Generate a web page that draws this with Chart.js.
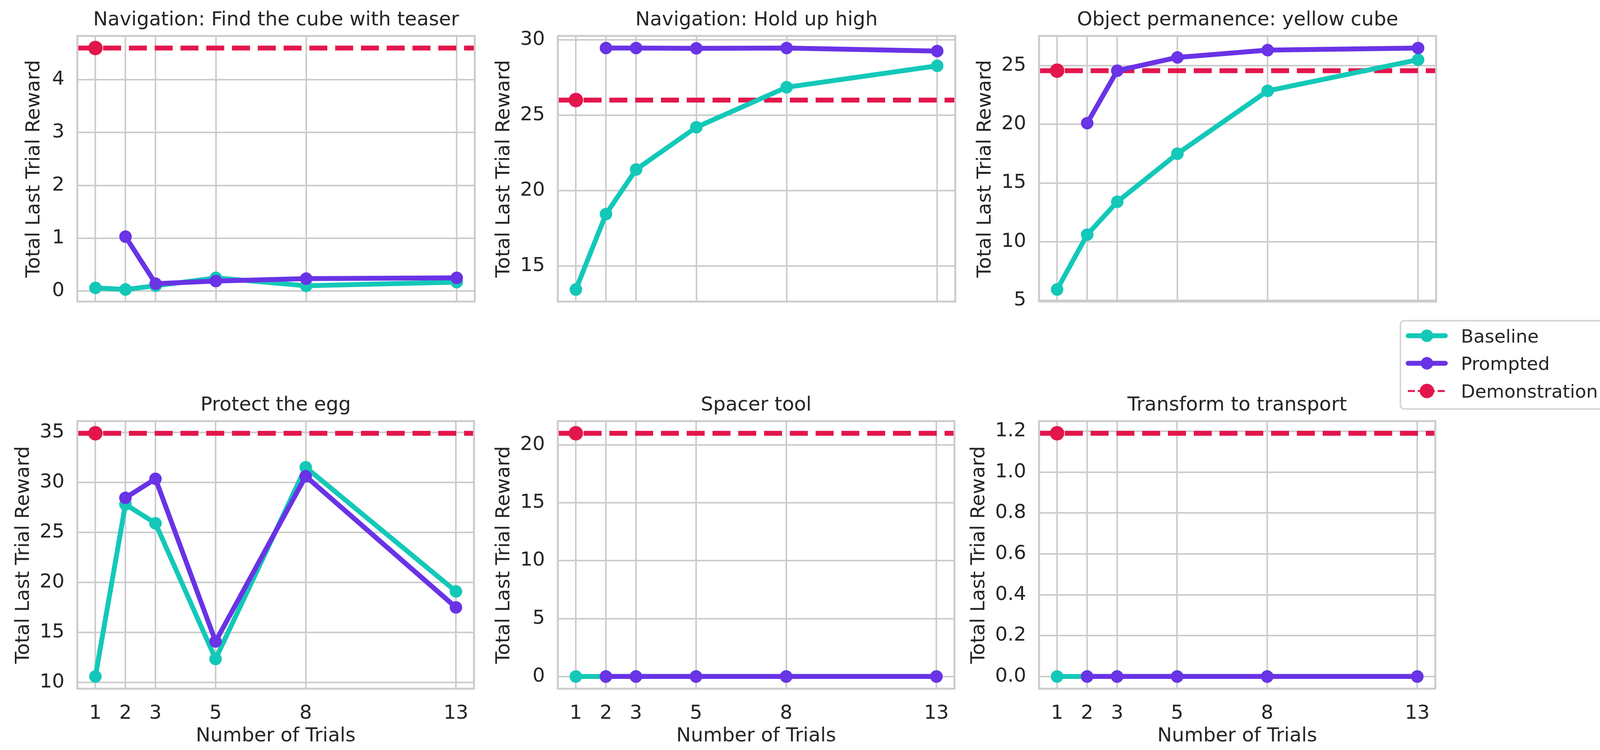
<!DOCTYPE html>
<html><head><meta charset="utf-8">
<script src="https://cdn.jsdelivr.net/npm/chart.js@4.4.1/dist/chart.umd.min.js"></script>
<style>
html,body{margin:0;padding:0;background:#ffffff;overflow:hidden;width:4136px;height:1920px;position:relative;}
canvas{position:absolute;}
</style></head><body>
<script>
// ---------------- data ----------------
const trialCounts = [1, 2, 3, 5, 8, 13];
const promptedTrialCounts = [2, 3, 5, 8, 13];
const demoTrialCount = 1;
const xTickLabels = ['1', '2', '3', '5', '8', '13'];
const seriesNames = ['Baseline', 'Prompted', 'Demonstration'];

const panelTitles = [
  'Navigation: Find the cube with teaser',
  'Navigation: Hold up high',
  'Object permanence: yellow cube',
  'Protect the egg',
  'Spacer tool',
  'Transform to transport'
];

const baselineFindCube = [0.06, 0.03, 0.10, 0.25, 0.10, 0.17];
const promptedFindCube = [1.03, 0.14, 0.19, 0.235, 0.25];
const demoFindCube = 4.60;

const baselineHoldUp = [13.45, 18.45, 21.4, 24.2, 26.85, 28.27];
const promptedHoldUp = [29.45, 29.45, 29.43, 29.45, 29.25];
const demoHoldUp = 26.0;

const baselineYellowCube = [5.93, 10.6, 13.4, 17.5, 22.85, 25.5];
const promptedYellowCube = [20.1, 24.57, 25.7, 26.32, 26.5];
const demoYellowCube = 24.57;

const baselineEgg = [10.6, 27.8, 25.9, 12.35, 31.5, 19.1];
const promptedEgg = [28.45, 30.35, 14.1, 30.6, 17.5];
const demoEgg = 34.9;

const baselineSpacer = [0, 0, 0, 0, 0, 0];
const promptedSpacer = [0, 0, 0, 0, 0];
const demoSpacer = 21.0;

const baselineTransform = [0, 0, 0, 0, 0, 0];
const promptedTransform = [0, 0, 0, 0, 0];
const demoTransform = 1.19;

const yTicksFindCube = [0, 1, 2, 3, 4];
const yTicksHoldUp = [15, 20, 25, 30];
const yTicksYellowCube = [5, 10, 15, 20, 25];
const yTicksEgg = [10, 15, 20, 25, 30, 35];
const yTicksSpacer = [0, 5, 10, 15, 20];
const yTicksTransform = [0, 0.2, 0.4, 0.6, 0.8, 1.0, 1.2];

// ---------------- style / layout ----------------
const COLORS = {baseline: '#13c8b8', prompted: '#6933e6', demo: '#e3164c'};
const TEXT = '#262626', GRID = '#cccccc', FONT = 'DejaVu Sans';
const colLeft = [198, 1428, 2660], colRight = [1224, 2454, 3685];
const rowTop = [92, 1078], rowBottom = [775, 1763];

const panels = [
  {title: panelTitles[0], base: baselineFindCube, prompt: promptedFindCube, demo: demoFindCube, yTicks: yTicksFindCube, dec: 0, col: 0, row: 0, labelOffset: 113},
  {title: panelTitles[1], base: baselineHoldUp, prompt: promptedHoldUp, demo: demoHoldUp, yTicks: yTicksHoldUp, dec: 0, col: 1, row: 0, labelOffset: 140},
  {title: panelTitles[2], base: baselineYellowCube, prompt: promptedYellowCube, demo: demoYellowCube, yTicks: yTicksYellowCube, dec: 0, col: 2, row: 0, labelOffset: 140},
  {title: panelTitles[3], base: baselineEgg, prompt: promptedEgg, demo: demoEgg, yTicks: yTicksEgg, dec: 0, col: 0, row: 1, labelOffset: 140},
  {title: panelTitles[4], base: baselineSpacer, prompt: promptedSpacer, demo: demoSpacer, yTicks: yTicksSpacer, dec: 0, col: 1, row: 1, labelOffset: 140},
  {title: panelTitles[5], base: baselineTransform, prompt: promptedTransform, demo: demoTransform, yTicks: yTicksTransform, dec: 1, col: 2, row: 1, labelOffset: 156}
];

const xSpan = Math.max(...trialCounts) - Math.min(...trialCounts);
const xMin = Math.min(...trialCounts) - 0.05 * xSpan;
const xMax = Math.max(...trialCounts) + 0.05 * xSpan;

const framePlugin = {
  id: 'frame',
  afterDatasetsDraw(chart) {
    const {ctx, chartArea: a} = chart;
    ctx.save();
    ctx.strokeStyle = GRID;
    ctx.lineWidth = 5;
    ctx.strokeRect(a.left, a.top, a.right - a.left, a.bottom - a.top);
    ctx.restore();
  }
};

function makePanel(p) {
  const L = colLeft[p.col], R = colRight[p.col], T = rowTop[p.row], B = rowBottom[p.row];
  const LM = 190, RM = 10, TM = 90, BM = p.row === 0 ? 60 : 156;
  const cw = LM + (R - L) + RM, ch = TM + (B - T) + BM;
  const cv = document.createElement('canvas');
  cv.width = cw; cv.height = ch;
  cv.style.left = (L - LM) + 'px'; cv.style.top = (T - TM) + 'px';
  cv.style.width = cw + 'px'; cv.style.height = ch + 'px';
  document.body.appendChild(cv);

  const all = p.base.concat(p.prompt, [p.demo]);
  const lo = Math.min(...all), hi = Math.max(...all);
  const pad = 0.05 * (hi - lo);
  const bottomRow = p.row === 1;
  const font = {family: FONT, size: 50, weight: 'normal', lineHeight: 1.2};

  new Chart(cv, {
    type: 'line',
    data: {
      datasets: [
        {label: 'demo-line', data: [{x: xMin, y: p.demo}, {x: xMax, y: p.demo}],
         borderColor: COLORS.demo, borderWidth: 12.5, borderDash: [46, 20], borderCapStyle: 'butt',
         pointRadius: 0, order: 4, clip: 0, tension: 0},
        {label: seriesNames[2], data: [{x: demoTrialCount, y: p.demo}], showLine: false,
         pointRadius: 18.5, pointBackgroundColor: COLORS.demo, pointBorderWidth: 0, borderColor: COLORS.demo, order: 3},
        {label: seriesNames[0], data: trialCounts.map((x, i) => ({x: x, y: p.base[i]})),
         borderColor: COLORS.baseline, borderWidth: 12.5, borderJoinStyle: 'round', borderCapStyle: 'round',
         pointRadius: 16, pointBackgroundColor: COLORS.baseline, pointBorderWidth: 0, order: 2, tension: 0},
        {label: seriesNames[1], data: promptedTrialCounts.map((x, i) => ({x: x, y: p.prompt[i]})),
         borderColor: COLORS.prompted, borderWidth: 12.5, borderJoinStyle: 'round', borderCapStyle: 'round',
         pointRadius: 16, pointBackgroundColor: COLORS.prompted, pointBorderWidth: 0, order: 1, tension: 0}
      ]
    },
    options: {
      responsive: false, animation: false, devicePixelRatio: 1, events: [],
      layout: {padding: {left: 0, right: RM, top: 0, bottom: 0}},
      plugins: {
        legend: {display: false}, tooltip: {enabled: false},
        title: {display: true, text: p.title, fullSize: false, color: TEXT, font: font, padding: {top: 20, bottom: 10}}
      },
      scales: {
        x: {
          type: 'linear', min: xMin, max: xMax,
          afterBuildTicks: s => { s.ticks = trialCounts.map(v => ({value: v})); },
          afterFit: s => { s.height = BM; },
          grid: {color: GRID, lineWidth: 4, drawTicks: false},
          border: {display: false},
          ticks: {display: bottomRow, padding: 34, color: TEXT, font: font, autoSkip: false, maxRotation: 0, minRotation: 0,
                  callback: (v, i) => xTickLabels[i]},
          title: {display: bottomRow, text: 'Number of Trials', color: TEXT, font: font, padding: {top: 0, bottom: 4}}
        },
        y: {
          type: 'linear', min: lo - pad, max: hi + pad,
          afterBuildTicks: s => { s.ticks = p.yTicks.map(v => ({value: v})); },
          afterFit: s => { s.width = LM; },
          grid: {color: GRID, lineWidth: 4, drawTicks: false},
          border: {display: false},
          ticks: {padding: 33, color: TEXT, font: font, autoSkip: false, callback: v => Number(v).toFixed(p.dec)},
          title: {display: true, text: 'Total Last Trial Reward', color: TEXT, font: font, padding: {top: 163 - p.labelOffset, bottom: 0}}
        }
      }
    },
    plugins: [framePlugin]
  });
}

panels.forEach(makePanel);

// ---------------- legend ----------------
(function drawLegend() {
  const LX = 3560, LY = 800, W = 576, H = 280;
  const cv = document.createElement('canvas');
  cv.width = W; cv.height = H;
  cv.style.left = LX + 'px'; cv.style.top = LY + 'px';
  cv.style.width = W + 'px'; cv.style.height = H + 'px';
  document.body.appendChild(cv);
  const ctx = cv.getContext('2d');
  const fx = 25, fy = 21, fw = 526, fh = 226, r = 10;
  ctx.beginPath();
  ctx.moveTo(fx + r, fy);
  ctx.lineTo(fx + fw - r, fy); ctx.arcTo(fx + fw, fy, fx + fw, fy + r, r);
  ctx.lineTo(fx + fw, fy + fh - r); ctx.arcTo(fx + fw, fy + fh, fx + fw - r, fy + fh, r);
  ctx.lineTo(fx + r, fy + fh); ctx.arcTo(fx, fy + fh, fx, fy + fh - r, r);
  ctx.lineTo(fx, fy + r); ctx.arcTo(fx, fy, fx + r, fy, r);
  ctx.closePath();
  ctx.fillStyle = '#ffffff'; ctx.fill();
  ctx.strokeStyle = '#d6d6d6'; ctx.lineWidth = 4; ctx.stroke();

  const rows = [59.5, 130, 201];
  const baselines = [77, 147, 218];
  const colors = [COLORS.baseline, COLORS.prompted, COLORS.demo];
  const cx = 93;
  for (let i = 0; i < 3; i++) {
    const y = rows[i];
    ctx.save();
    ctx.strokeStyle = colors[i];
    if (i < 2) {
      ctx.lineWidth = 12.5; ctx.lineCap = 'round';
      ctx.beginPath(); ctx.moveTo(45, y); ctx.lineTo(140, y); ctx.stroke();
    } else {
      ctx.lineWidth = 5; ctx.lineCap = 'butt';
      ctx.setLineDash([18, 7.5]);
      ctx.beginPath(); ctx.moveTo(44, y); ctx.lineTo(142, y); ctx.stroke();
    }
    ctx.restore();
    ctx.beginPath();
    ctx.arc(cx, y, i < 2 ? 16 : 18.5, 0, Math.PI * 2);
    ctx.fillStyle = colors[i]; ctx.fill();
    ctx.fillStyle = TEXT;
    ctx.font = '47px "DejaVu Sans"';
    ctx.textBaseline = 'alphabetic';
    ctx.textAlign = 'left';
    ctx.fillText(seriesNames[i], 180, baselines[i]);
  }
})();
</script>
</body></html>
